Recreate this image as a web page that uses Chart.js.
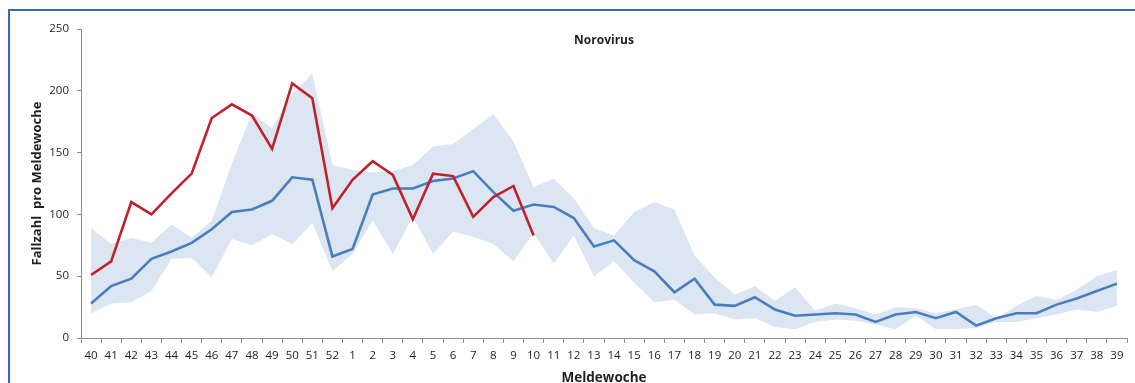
<!DOCTYPE html>
<html lang="de">
<head>
<meta charset="utf-8">
<title>Norovirus</title>
<script src="https://cdn.jsdelivr.net/npm/chart.js@4/dist/chart.umd.min.js"></script>
<style>
  html, body { margin: 0; padding: 0; background: #fff; overflow: hidden; }
  #wrap { position: relative; width: 1135px; height: 383px; }
  #frame {
    position: absolute; left: 8px; top: 9px; width: 1300px; height: 600px;
    border: 2.5px solid #3a69b2; box-sizing: border-box; pointer-events: none;
  }
  canvas { position: absolute; left: 0; top: 0; }
</style>
</head>
<body>
<div id="wrap">
  <div id="frame"></div>
  <canvas id="chart" width="1135" height="383"></canvas>
</div>
<script>
// Reporting weeks of the season, 40 through 52 and then 1 through 39
const weeks = ['40','41','42','43','44','45','46','47','48','49','50','51','52',
  '1','2','3','4','5','6','7','8','9','10','11','12','13','14','15','16','17','18','19','20',
  '21','22','23','24','25','26','27','28','29','30','31','32','33','34','35','36','37','38','39'];

// Current season (weeks 40 to 10)
const currentSeason = [51, 62, 110, 100, 117, 133, 178, 189, 180, 153, 206, 194, 105,
  128, 143, 132, 96, 133, 131, 98, 114, 123, 83];

// Mean of previous seasons
const meanPrevious = [28, 42, 48, 64, 70, 77, 88, 102, 104, 111, 130, 128, 66,
  72, 116, 121, 121, 127, 129, 135, 118, 103, 108,
  106, 97, 74, 79, 63, 54, 37, 48, 27, 26,
  33, 23, 18, 19, 20, 19, 13, 19, 21, 16,
  21, 10, 16, 20, 20, 27, 32, 38, 44];

// Range of previous seasons: maximum and minimum
const rangeMax = [89, 76, 81, 77, 92, 81, 95, 141, 182, 170, 197, 214, 140,
  136, 134, 135, 140, 155, 157, 169, 181, 159, 122,
  129, 113, 89, 83, 102, 110, 104, 67, 49, 35,
  42, 30, 41, 22, 28, 24, 19, 25, 24, 20,
  23, 27, 16, 26, 34, 31, 39, 50, 55];

const rangeMin = [20, 28, 29, 38, 64, 65, 49, 80, 75, 84, 76, 93, 54,
  68, 95, 68, 98, 68, 86, 82, 76, 62, 85,
  60, 83, 50, 62, 45, 29, 31, 19, 20, 15,
  16, 9, 7, 13, 15, 14, 11, 7, 18, 7,
  7, 8, 13, 13, 16, 19, 23, 21, 26];

const yTicks = [0, 50, 100, 150, 200, 250];

const FONT = '"Open Sans", "Liberation Sans", Arial, sans-serif';
const AXIS = '#8c8c8c';
const TEXT = '#1f1f1f';

// Chart title sits inside the plot area
const innerTitle = {
  id: 'innerTitle',
  afterDraw(chart, args, opts) {
    const { ctx, chartArea } = chart;
    ctx.save();
    ctx.font = 'bold 12px ' + FONT;
    ctx.fillStyle = TEXT;
    ctx.textAlign = 'center';
    ctx.textBaseline = 'middle';
    ctx.fillText(opts.text, (chartArea.left + chartArea.right) / 2, chartArea.top + 12);
    ctx.restore();
  }
};

new Chart(document.getElementById('chart'), {
  type: 'line',
  data: {
    labels: weeks,
    datasets: [
      {
        label: 'aktuelle Saison',
        data: currentSeason,
        borderColor: '#c0222b',
        borderWidth: 2.6,
        pointRadius: 0,
        fill: false,
        tension: 0
      },
      {
        label: 'Mittelwert',
        data: meanPrevious,
        borderColor: '#4a7dbc',
        borderWidth: 2.6,
        pointRadius: 0,
        fill: false,
        tension: 0
      },
      {
        label: 'Maximum',
        data: rangeMax,
        borderWidth: 0,
        borderColor: 'rgba(0,0,0,0)',
        backgroundColor: '#dce6f2',
        pointRadius: 0,
        fill: '+1',
        tension: 0
      },
      {
        label: 'Minimum',
        data: rangeMin,
        borderWidth: 0,
        borderColor: 'rgba(0,0,0,0)',
        pointRadius: 0,
        fill: false,
        tension: 0
      }
    ]
  },
  options: {
    responsive: false,
    animation: false,
    events: [],
    layout: { padding: { top: 29, right: 8, bottom: 0, left: 0 } },
    plugins: {
      legend: { display: false },
      tooltip: { enabled: false },
      innerTitle: { text: 'Norovirus' }
    },
    scales: {
      x: {
        type: 'category',
        offset: true,
        grid: {
          offset: true,
          display: true,
          drawOnChartArea: false,
          drawTicks: true,
          tickLength: 5,
          color: AXIS
        },
        border: { display: true, color: AXIS, width: 1 },
        ticks: {
          autoSkip: false,
          maxRotation: 0,
          padding: 6,
          color: TEXT,
          font: { family: FONT, size: 11.5 }
        },
        title: {
          display: true,
          text: 'Meldewoche',
          color: TEXT,
          font: { family: FONT, size: 13.5, weight: 'bold' },
          padding: { top: 0, bottom: -3 }
        },
        afterFit(scale) { scale.height = 45; }
      },
      y: {
        min: 0,
        max: 250,
        afterBuildTicks(scale) { scale.ticks = yTicks.map(v => ({ value: v })); },
        grid: {
          display: true,
          drawOnChartArea: false,
          drawTicks: true,
          tickLength: 4,
          color: AXIS
        },
        border: { display: true, color: AXIS, width: 1 },
        ticks: {
          padding: 8,
          color: TEXT,
          font: { family: FONT, size: 11.5 }
        },
        title: {
          display: true,
          text: 'Fallzahl  pro Meldewoche',
          color: TEXT,
          font: { family: FONT, size: 13, weight: 'bold' },
          padding: { top: 29, bottom: 0 }
        },
        afterFit(scale) { scale.width = 81; }
      }
    }
  },
  plugins: [innerTitle]
});
</script>
</body>
</html>
